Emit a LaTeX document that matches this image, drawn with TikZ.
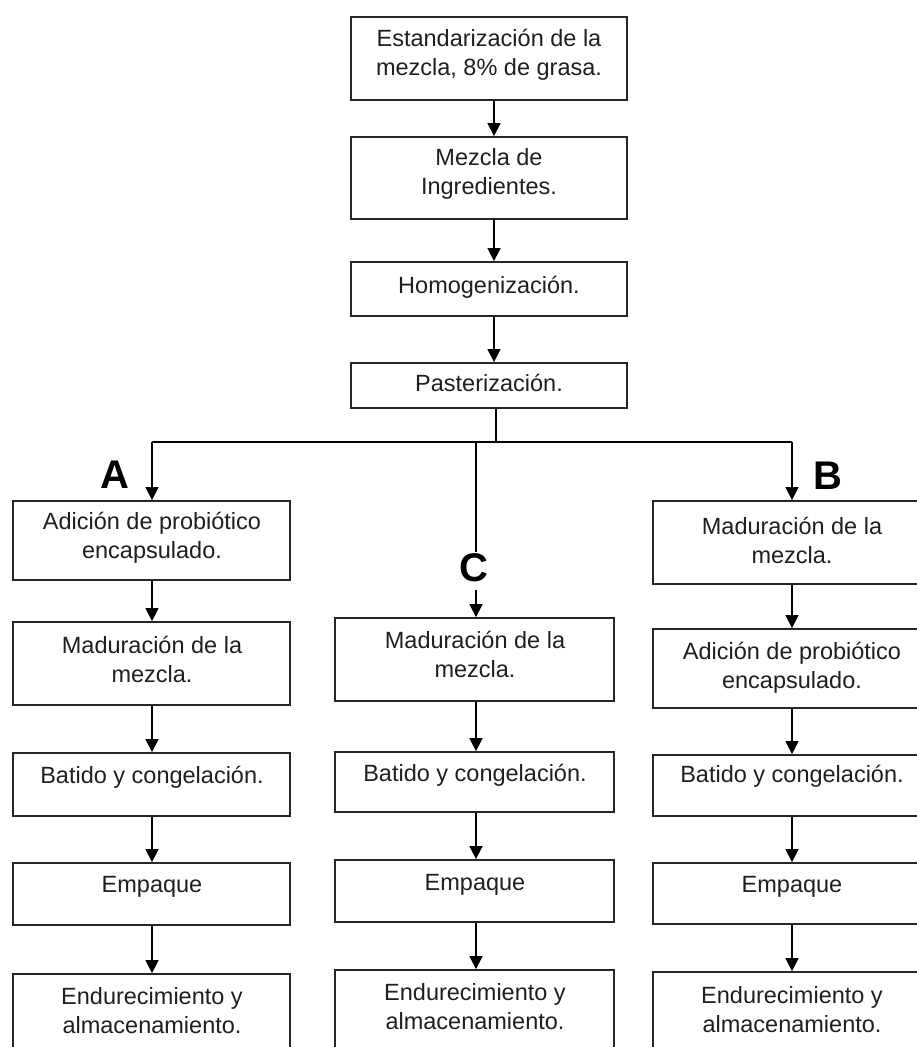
\documentclass[tikz,border=0pt]{standalone}
\usepackage{fontspec}
\setmainfont{Liberation Sans}
\usetikzlibrary{arrows.meta,calc}
\tikzset{
  box/.style={draw=black!85, line width=1.8pt, fill=white, inner sep=0pt},
  txt/.style={align=center, inner sep=0pt, text=black!88, font=\fontsize{23.5}{29}\selectfont},
  lbl/.style={inner sep=0pt, font=\fontsize{40}{40}\selectfont\bfseries},
  conn/.style={draw=black, line width=1.5pt},
  arr/.style={conn, -{Triangle[width=13pt,length=13pt]}}
}
\newcommand{\mybx}[5]{%
  \pgfmathsetmacro{\bw}{#4-#2}\pgfmathsetmacro{\bh}{#5-#3}%
  \pgfmathsetmacro{\bcx}{(#2+#4)/2}\pgfmathsetmacro{\bcy}{(#3+#5)/2}%
  \node[box, minimum width=\bw pt, minimum height=\bh pt] (#1) at (\bcx,\bcy) {};}
\begin{document}
\begin{tikzpicture}[x=1pt,y=-1pt]
\useasboundingbox (0,0) rectangle (917,1047);
\fill[white] (0,0) rectangle (917,1047);
\clip (0,0) rectangle (917,1047);
% top chain
\mybx{t1}{351}{17}{627}{100}
\mybx{t2}{351}{137}{627}{219}
\mybx{t3}{351}{262}{627}{316}
\mybx{t4}{351}{363}{627}{408}
\node[txt] (tt1) at (489,55) {Estandarización de la\\mezcla, 8\% de grasa.};
\node[txt] (tt2) at (489,173.5) {Mezcla de\\Ingredientes.};
\node[txt] (tt3) at (489,287.5) {Homogenización.};
\node[txt] (tt4) at (489,383) {Pasterización.};
% column A
\mybx{a1}{13}{501}{290}{580}
\mybx{a2}{13}{622}{290}{705}
\mybx{a3}{13}{753}{290}{816}
\mybx{a4}{13}{863}{290}{925}
\mybx{a5}{13}{974}{290}{1070}
\node[txt] (ta1) at (152,538) {Adición de probiótico\\encapsulado.};
\node[txt] (ta2) at (152,659.5) {Maduración de la\\mezcla.};
\node[txt] (ta3) at (152,777) {Batido y congelación.};
\node[txt] (ta4) at (152,886.5) {Empaque};
\node[txt] (ta5) at (152,1010.5) {Endurecimiento y\\almacenamiento.};
% column C
\mybx{c1}{335}{618}{614}{701}
\mybx{c2}{335}{752}{614}{812}
\mybx{c3}{335}{860}{614}{922}
\mybx{c4}{335}{970}{614}{1070}
\node[txt] (tc1) at (475,654.5) {Maduración de la\\mezcla.};
\node[txt] (tc2) at (475,775) {Batido y congelación.};
\node[txt] (tc3) at (475,884.5) {Empaque};
\node[txt] (tc4) at (475,1006.5) {Endurecimiento y\\almacenamiento.};
% column B
\mybx{b1}{653}{501}{931}{584}
\mybx{b2}{653}{629}{931}{708}
\mybx{b3}{653}{755}{931}{816}
\mybx{b4}{653}{863}{931}{924}
\mybx{b5}{653}{972}{931}{1070}
\node[txt] (tb1) at (792,540) {Maduración de la\\mezcla.};
\node[txt] (tb2) at (792,667.5) {Adición de probiótico\\encapsulado.};
\node[txt] (tb3) at (792,776.5) {Batido y congelación.};
\node[txt] (tb4) at (792,886.5) {Empaque};
\node[txt] (tb5) at (792,1009.5) {Endurecimiento y\\almacenamiento.};
% labels
\node[lbl] (la) at (115,475) {A};
\node[lbl] (lb) at (828,476) {B};
\node[lbl] (lc) at (474,568) {C};
% helper coordinates
\coordinate (sx) at (494,0);
\coordinate (jS) at (496,442);
\coordinate (jL) at (152,442);
\coordinate (jR) at (792,442);
\coordinate (jC) at (476,442);
\coordinate (cEnd) at (476,552);
\coordinate (cStart) at (476,590);
% top connectors
\draw[arr] (t1.south -| sx) -- (t2.north -| sx);
\draw[arr] (t2.south -| sx) -- (t3.north -| sx);
\draw[arr] (t3.south -| sx) -- (t4.north -| sx);
\draw[conn] (t4.south -| jS) -- (jS);
\draw[conn] (jL) -- (jR);
\draw[arr] (jL) -- (a1.north -| jL);
\draw[arr] (jR) -- (b1.north -| jR);
\draw[conn] (jC) -- (cEnd);
\draw[arr] (cStart) -- (c1.north -| cStart);
% column A connectors
\draw[arr] (a1.south -| jL) -- (a2.north -| jL);
\draw[arr] (a2.south -| jL) -- (a3.north -| jL);
\draw[arr] (a3.south -| jL) -- (a4.north -| jL);
\draw[arr] (a4.south -| jL) -- (a5.north -| jL);
% column C connectors
\draw[arr] (c1.south -| jC) -- (c2.north -| jC);
\draw[arr] (c2.south -| jC) -- (c3.north -| jC);
\draw[arr] (c3.south -| jC) -- (c4.north -| jC);
% column B connectors
\draw[arr] (b1.south -| jR) -- (b2.north -| jR);
\draw[arr] (b2.south -| jR) -- (b3.north -| jR);
\draw[arr] (b3.south -| jR) -- (b4.north -| jR);
\draw[arr] (b4.south -| jR) -- (b5.north -| jR);
\end{tikzpicture}
\end{document}
